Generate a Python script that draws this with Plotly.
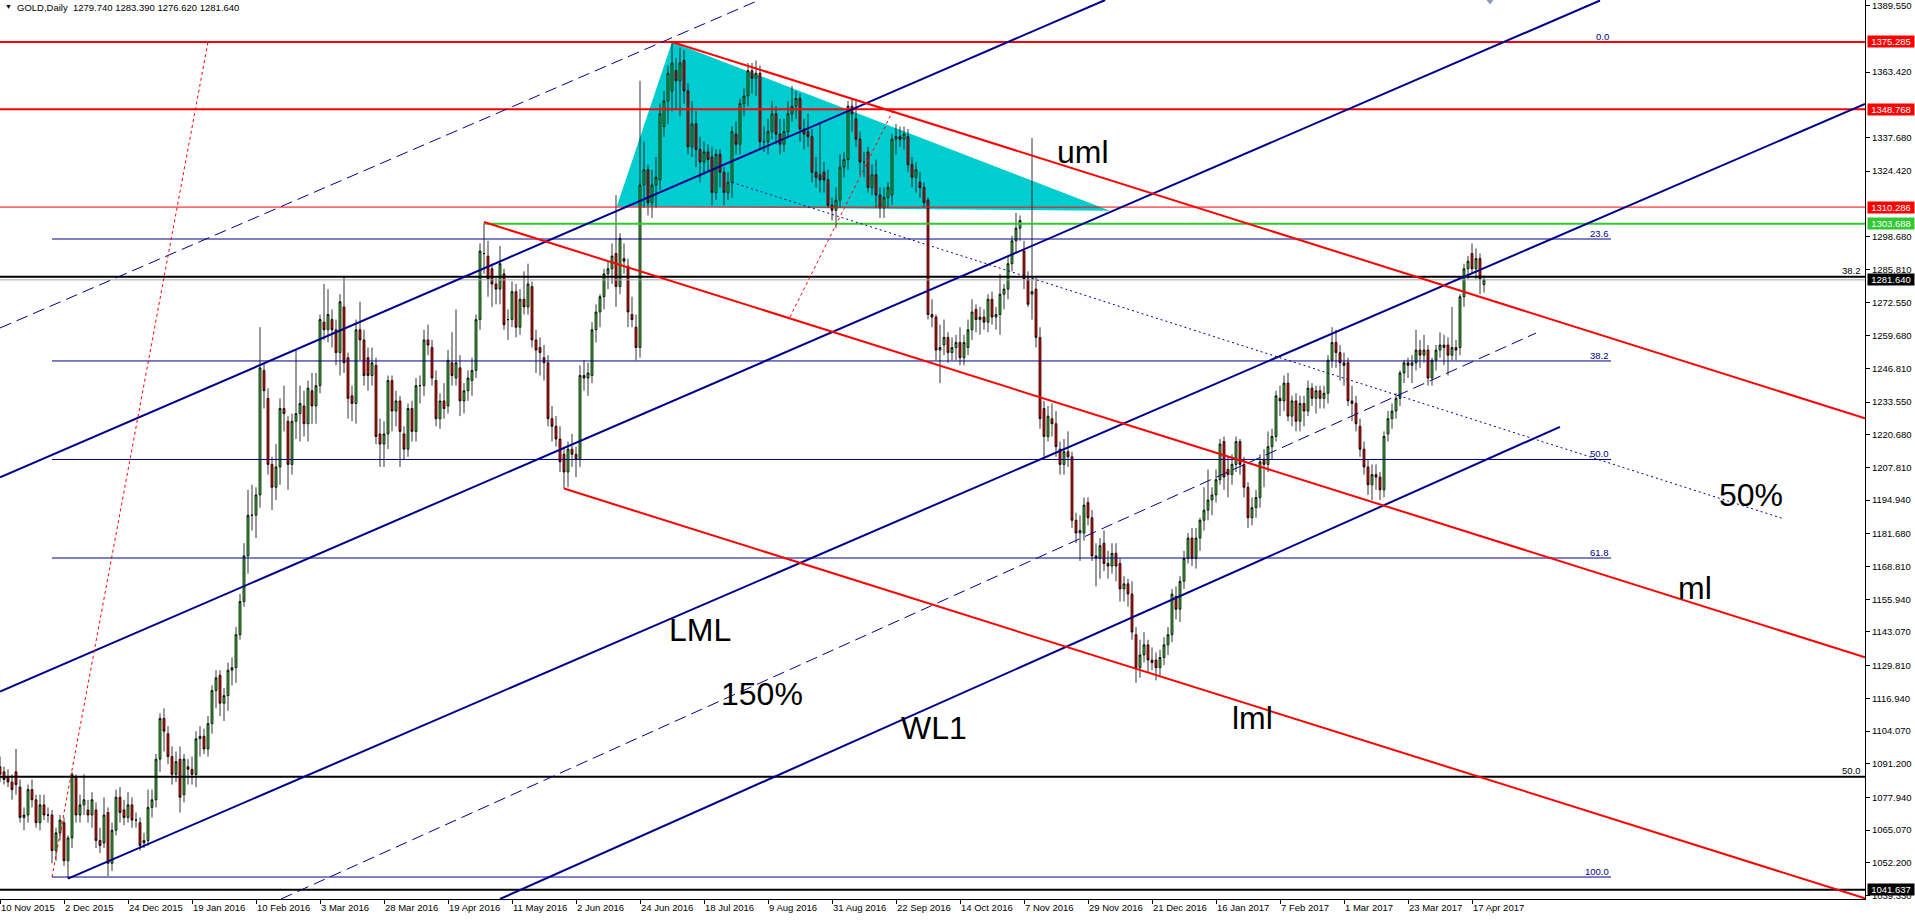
import plotly.graph_objects as go

# GOLD daily candles, bar 0 = 10 Nov 2015 ... bar 371 = 20 Apr 2017
opens = [
    1090, 1088, 1086, 1084, 1088, 1082, 1070, 1071, 1081, 1077,  # 0
    1068, 1075, 1071, 1071, 1057, 1064, 1068, 1053, 1062, 1086,  # 10
    1071, 1075, 1073, 1071, 1073, 1061, 1060, 1072, 1052, 1065,  # 20
    1078, 1073, 1070, 1075, 1069, 1068, 1060, 1061, 1074, 1077,  # 30
    1093, 1109, 1103, 1094, 1087, 1093, 1079, 1090, 1089, 1087,  # 40
    1101, 1102, 1097, 1107, 1120, 1126, 1115, 1118, 1128, 1129,  # 50
    1142, 1155, 1173, 1189, 1189, 1197, 1246, 1235, 1209, 1200,  # 60
    1208, 1231, 1226, 1209, 1226, 1229, 1232, 1225, 1238, 1232,  # 70
    1240, 1265, 1262, 1266, 1262, 1253, 1271, 1251, 1236, 1233,  # 80
    1262, 1258, 1251, 1244, 1248, 1221, 1217, 1221, 1242, 1230,  # 90
    1234, 1221, 1215, 1231, 1222, 1240, 1240, 1258, 1255, 1242,  # 100
    1227, 1234, 1232, 1249, 1243, 1247, 1234, 1238, 1242, 1246,  # 110
    1266, 1292, 1291, 1286, 1280, 1278, 1284, 1266, 1266, 1277,  # 120
    1263, 1274, 1271, 1279, 1258, 1255, 1251, 1249, 1227, 1224,  # 130
    1219, 1213, 1206, 1215, 1213, 1211, 1244, 1243, 1244, 1262,  # 140
    1269, 1275, 1284, 1286, 1292, 1279, 1290, 1287, 1268, 1263,  # 150
    1255, 1319, 1325, 1312, 1319, 1321, 1342, 1352, 1356, 1364,  # 160
    1360, 1368, 1356, 1334, 1343, 1333, 1328, 1332, 1330, 1316,  # 170
    1331, 1324, 1316, 1320, 1339, 1335, 1351, 1354, 1364, 1361,  # 180
    1363, 1336, 1336, 1340, 1347, 1339, 1335, 1340, 1347, 1350,  # 190
    1353, 1341, 1340, 1338, 1324, 1323, 1324, 1321, 1311, 1309,  # 200
    1313, 1326, 1329, 1350, 1345, 1337, 1328, 1332, 1318, 1323,  # 210
    1315, 1310, 1314, 1315, 1337, 1338, 1337, 1338, 1327, 1322,  # 220
    1320, 1318, 1313, 1268, 1267, 1254, 1256, 1259, 1253, 1255,  # 230
    1257, 1251, 1255, 1262, 1270, 1266, 1267, 1265, 1274, 1267,  # 240
    1268, 1276, 1278, 1288, 1297, 1302, 1293, 1282, 1276, 1278,  # 250
    1259, 1231, 1220, 1227, 1225, 1215, 1209, 1214, 1212, 1187,  # 260
    1182, 1182, 1194, 1188, 1173, 1172, 1178, 1170, 1169, 1174,  # 270
    1170, 1160, 1162, 1158, 1142, 1129, 1134, 1138, 1132, 1132,  # 280
    1129, 1133, 1138, 1142, 1157, 1152, 1163, 1172, 1180, 1172,  # 290
    1180, 1187, 1191, 1195, 1197, 1203, 1218, 1207, 1205, 1209,  # 300
    1218, 1209, 1200, 1188, 1192, 1196, 1211, 1209, 1216, 1220,  # 310
    1235, 1234, 1241, 1228, 1234, 1226, 1233, 1230, 1239, 1235,  # 320
    1238, 1235, 1237, 1250, 1257, 1253, 1249, 1249, 1234, 1233,  # 330
    1224, 1215, 1208, 1201, 1205, 1204, 1199, 1221, 1227, 1230,  # 340
    1235, 1245, 1249, 1248, 1249, 1254, 1252, 1254, 1243, 1250,  # 350
    1254, 1256, 1256, 1252, 1255, 1255, 1275, 1286, 1292, 1286,  # 360
    1290, 1279.74,  # 370
]
highs = [
    1094, 1090, 1089, 1087, 1097, 1085, 1074, 1083, 1085, 1079,
    1079, 1079, 1074, 1073, 1066, 1071, 1070, 1063, 1088, 1087,
    1079, 1087, 1077, 1080, 1076, 1066, 1078, 1074, 1068, 1081,
    1082, 1077, 1080, 1078, 1072, 1070, 1064, 1081, 1081, 1095,
    1111, 1113, 1106, 1098, 1096, 1098, 1095, 1093, 1094, 1104,
    1106, 1105, 1110, 1122, 1128, 1128, 1121, 1131, 1133, 1145,
    1158, 1178, 1199, 1201, 1200, 1263, 1249, 1239, 1212, 1217,
    1235, 1240, 1228, 1229, 1254, 1240, 1238, 1242, 1245, 1245,
    1268, 1280, 1278, 1270, 1266, 1276, 1283, 1253, 1240, 1266,
    1273, 1262, 1255, 1255, 1251, 1227, 1226, 1244, 1244, 1238,
    1236, 1224, 1233, 1234, 1243, 1244, 1262, 1264, 1258, 1246,
    1237, 1241, 1254, 1261, 1270, 1252, 1241, 1246, 1251, 1268,
    1296, 1304, 1297, 1288, 1283, 1295, 1286, 1270, 1281, 1280,
    1278, 1285, 1288, 1281, 1262, 1259, 1256, 1252, 1232, 1228,
    1224, 1216, 1218, 1221, 1216, 1248, 1250, 1249, 1265, 1272,
    1276, 1286, 1289, 1296, 1315, 1300, 1296, 1290, 1275, 1268,
    1360, 1336, 1327, 1325, 1330, 1351, 1356, 1366, 1375.3, 1369,
    1373, 1372, 1359, 1352, 1348, 1338, 1336, 1335, 1334, 1333,
    1333, 1326, 1324, 1342, 1344, 1353, 1357, 1367, 1367, 1368,
    1366, 1342, 1345, 1352, 1350, 1345, 1345, 1352, 1358, 1356,
    1355, 1345, 1347, 1341, 1330, 1343, 1328, 1325, 1314, 1318,
    1331, 1332, 1352, 1353, 1352, 1340, 1332, 1334, 1327, 1329,
    1318, 1318, 1320, 1339, 1343, 1342, 1342, 1341, 1330, 1328,
    1324, 1320, 1314, 1274, 1268, 1264, 1266, 1261, 1259, 1260,
    1263, 1260, 1266, 1274, 1272, 1271, 1270, 1276, 1277, 1271,
    1284, 1280, 1291, 1299, 1308, 1307, 1297, 1285, 1337.5, 1283,
    1263, 1234, 1232, 1233, 1230, 1218, 1219, 1222, 1214, 1190,
    1189, 1196, 1196, 1191, 1178, 1180, 1183, 1175, 1178, 1178,
    1172, 1165, 1164, 1163, 1145, 1140, 1143, 1140, 1137, 1135,
    1136, 1141, 1145, 1160, 1161, 1165, 1175, 1182, 1184, 1184,
    1188, 1200, 1207, 1200, 1207, 1219, 1220, 1212, 1213, 1220,
    1219, 1212, 1202, 1196, 1199, 1213, 1215, 1222, 1223, 1238,
    1240, 1244, 1245, 1236, 1237, 1236, 1236, 1242, 1241, 1240,
    1240, 1240, 1252, 1263, 1262, 1256, 1253, 1251, 1240, 1236,
    1227, 1218, 1211, 1209, 1209, 1206, 1222, 1230, 1233, 1237,
    1246, 1250, 1251, 1252, 1262, 1258, 1260, 1256, 1251, 1256,
    1261, 1260, 1259, 1271, 1258, 1276, 1288, 1291, 1296, 1294,
    1292, 1283.39,
]
lows = [
    1084, 1083, 1082, 1077, 1079, 1068, 1065, 1068, 1074, 1066,
    1065, 1069, 1068, 1052, 1053, 1061, 1051, 1046, 1058, 1068,
    1068, 1071, 1068, 1066, 1058, 1056, 1058, 1047, 1049, 1063,
    1068, 1067, 1068, 1066, 1066, 1057, 1058, 1059, 1070, 1074,
    1088, 1096, 1091, 1083, 1084, 1072, 1076, 1083, 1083, 1082,
    1094, 1095, 1094, 1103, 1113, 1110, 1108, 1112, 1122, 1123,
    1140, 1153, 1166, 1183, 1180, 1192, 1231, 1205, 1191, 1195,
    1201, 1222, 1199, 1205, 1219, 1218, 1220, 1218, 1225, 1225,
    1237, 1258, 1257, 1255, 1248, 1244, 1245, 1227, 1226, 1225,
    1250, 1240, 1238, 1240, 1217, 1208, 1208, 1215, 1222, 1224,
    1208, 1211, 1212, 1218, 1218, 1233, 1236, 1252, 1240, 1224,
    1223, 1227, 1229, 1240, 1240, 1228, 1229, 1234, 1236, 1243,
    1262, 1284, 1275, 1271, 1272, 1272, 1262, 1258, 1263, 1259,
    1260, 1268, 1268, 1255, 1245, 1244, 1242, 1224, 1218, 1216,
    1206, 1199.5, 1200, 1208, 1204, 1208, 1238, 1236, 1241, 1257,
    1263, 1270, 1278, 1280, 1271, 1276, 1284, 1263, 1263, 1250,
    1251, 1310, 1307, 1306, 1310, 1317, 1338, 1343, 1348, 1349,
    1346, 1351, 1331, 1330, 1326, 1320, 1323, 1324, 1311, 1313,
    1318, 1311, 1313, 1314, 1331, 1331, 1346, 1350, 1355, 1354,
    1333, 1332, 1331, 1337, 1335, 1331, 1332, 1338, 1344, 1345,
    1336, 1333, 1334, 1320, 1318, 1316, 1316, 1310, 1305, 1302,
    1310, 1322, 1325, 1340, 1334, 1323, 1322, 1316, 1315, 1310,
    1306, 1306, 1310, 1311, 1331, 1334, 1333, 1324, 1318, 1316,
    1314, 1310, 1266, 1263, 1250, 1241, 1252, 1249, 1250, 1250,
    1248, 1248, 1252, 1258, 1261, 1260, 1262, 1261, 1264, 1262,
    1260, 1270, 1274, 1285, 1292, 1297, 1278, 1271, 1266, 1255,
    1223, 1212, 1218, 1220, 1212, 1205, 1205, 1208, 1184, 1178,
    1171, 1179, 1185, 1171, 1161, 1164, 1167, 1164, 1166, 1163,
    1155, 1155, 1153, 1140, 1123, 1125, 1131, 1127, 1128, 1124,
    1126, 1130, 1134, 1139, 1148, 1147, 1160, 1170, 1169, 1168,
    1175, 1183, 1187, 1189, 1194, 1201, 1199, 1196, 1201, 1206,
    1205, 1196, 1184, 1185, 1188, 1192, 1200, 1206, 1211, 1218,
    1228, 1230, 1226, 1224, 1222, 1222, 1224, 1228, 1232, 1229,
    1231, 1231, 1233, 1247, 1247, 1242, 1240, 1232, 1226, 1222,
    1212, 1205, 1197, 1195, 1199, 1195, 1196, 1218, 1223, 1227,
    1232, 1241, 1243, 1241, 1246, 1247, 1249, 1240, 1240, 1246,
    1251, 1248, 1244, 1250, 1250, 1252, 1271, 1282, 1284, 1282,
    1276, 1276.62,
]
closes = [
    1087, 1085, 1084, 1081, 1083, 1070, 1071, 1081, 1077, 1068,
    1075, 1071, 1071, 1057, 1064, 1069, 1053, 1062, 1087, 1071,
    1075, 1077, 1071, 1077, 1061, 1059, 1071, 1052, 1065, 1078,
    1072, 1070, 1075, 1069, 1069, 1059, 1061, 1074, 1077, 1093,
    1109, 1104, 1094, 1087, 1092, 1078, 1093, 1089, 1087, 1101,
    1102, 1097, 1107, 1120, 1125, 1115, 1118, 1128, 1129, 1142,
    1155, 1173, 1189, 1189, 1197, 1247, 1238, 1209, 1200, 1208,
    1231, 1229, 1209, 1226, 1229, 1233, 1225, 1239, 1232, 1240,
    1266, 1262, 1268, 1262, 1253, 1273, 1249, 1235, 1233, 1262,
    1258, 1244, 1244, 1249, 1220, 1217, 1221, 1242, 1230, 1234,
    1222, 1215, 1231, 1222, 1240, 1240, 1258, 1256, 1243, 1227,
    1234, 1231, 1250, 1244, 1249, 1234, 1238, 1243, 1246, 1266,
    1293, 1292, 1282, 1280, 1278, 1288, 1264, 1266, 1277, 1263,
    1274, 1271, 1280, 1258, 1254, 1253, 1249, 1227, 1224, 1219,
    1210, 1206, 1215, 1213, 1211, 1244, 1243, 1245, 1262, 1269,
    1275, 1284, 1286, 1291, 1279, 1298, 1289, 1269, 1266, 1255,
    1319, 1325, 1312, 1319, 1322, 1347, 1352, 1363, 1367, 1360,
    1367, 1356, 1334, 1343, 1333, 1328, 1332, 1329, 1316, 1331,
    1324, 1316, 1320, 1340, 1335, 1351, 1354, 1364, 1361, 1363,
    1336, 1336, 1340, 1347, 1339, 1335, 1340, 1347, 1350, 1353,
    1341, 1339, 1338, 1324, 1322, 1321, 1321, 1311, 1309, 1313,
    1326, 1329, 1350, 1347, 1337, 1328, 1328, 1318, 1323, 1315,
    1310, 1314, 1318, 1337, 1338, 1337, 1339, 1327, 1322, 1325,
    1318, 1312, 1268, 1267, 1254, 1255, 1259, 1253, 1255, 1257,
    1251, 1257, 1262, 1269, 1266, 1267, 1265, 1274, 1267, 1268,
    1276, 1278, 1288, 1297, 1302, 1305, 1282, 1272, 1277, 1259,
    1227, 1220, 1228, 1225, 1216, 1209, 1214, 1212, 1187, 1182,
    1183, 1193, 1188, 1173, 1172, 1177, 1170, 1169, 1174, 1169,
    1160, 1162, 1158, 1143, 1129, 1134, 1138, 1132, 1131, 1129,
    1133, 1138, 1142, 1158, 1152, 1163, 1172, 1180, 1172, 1180,
    1187, 1191, 1195, 1197, 1203, 1217, 1204, 1205, 1209, 1218,
    1209, 1200, 1188, 1192, 1196, 1210, 1209, 1216, 1220, 1236,
    1234, 1241, 1228, 1234, 1226, 1233, 1230, 1239, 1235, 1238,
    1235, 1237, 1250, 1257, 1253, 1249, 1248, 1234, 1233, 1225,
    1215, 1208, 1201, 1205, 1204, 1199, 1220, 1227, 1230, 1235,
    1245, 1249, 1248, 1249, 1254, 1252, 1254, 1243, 1250, 1254,
    1256, 1255, 1252, 1255, 1254, 1275, 1286, 1289, 1286, 1290,
    1282, 1281.64,
]

# time axis labels every 16 bars
date_ticks = [0, 16, 32, 48, 64, 80, 96, 112, 128, 144, 160, 176, 192, 208,
              224, 240, 256, 272, 288, 304, 320, 336, 352, 368]
date_labels = ['10 Nov 2015', '2 Dec 2015', '24 Dec 2015', '19 Jan 2016', '10 Feb 2016',
               '3 Mar 2016', '28 Mar 2016', '19 Apr 2016', '11 May 2016', '2 Jun 2016',
               '24 Jun 2016', '18 Jul 2016', '9 Aug 2016', '31 Aug 2016', '22 Sep 2016',
               '14 Oct 2016', '7 Nov 2016', '29 Nov 2016', '21 Dec 2016', '16 Jan 2017',
               '7 Feb 2017', '1 Mar 2017', '23 Mar 2017', '17 Apr 2017']

# price scale
price_ticks = [1389.550, 1363.420, 1337.680, 1324.420,
               1298.680, 1285.810, 1272.550, 1259.680, 1246.810, 1233.550, 1220.680,
               1207.810, 1194.940, 1181.680, 1168.810, 1155.940, 1143.070, 1129.810,
               1116.940, 1104.070, 1091.200, 1077.940, 1065.070, 1052.200, 1039.330]
price_min, price_max = 1037.95, 1391.79
bar_max = 466.25

# horizontal levels
red_levels = [1375.285, 1348.768, 1310.286]
green_level = 1303.688
green_from_bar = 121
black_levels = [1282.9, 1086.1, 1041.637]
black_level_names = ['38.2', '50.0', '']
bid_price = 1281.64

# fibonacci retracement (navy)
fib_levels = [1375.285, 1297.72, 1249.72, 1210.94, 1172.16, 1046.6]
fib_names = ['0.0', '23.6', '38.2', '50.0', '61.8', '100.0']
fib_span = [13, 402.75]

# trend lines: [bar0, price0, bar1, price1]
navy_solid = [[0, 1203.9, 276.3, 1391.8],
              [0, 1119.6, 400.0, 1391.6],
              [17, 1046.0, 466.25, 1350.9],
              [125, 1037.95, 390.0, 1223.8]]
navy_dashed = [[0, 1262.7, 190, 1391.9],
               [70.25, 1037.95, 384, 1260.7]]
navy_dotted = [[183, 1320.0, 445.5, 1187.8]]
red_fork = [[168, 1375.26, 466.25, 1227.15],
            [121, 1304.4, 466.25, 1133.1],
            [141, 1199.5, 466.25, 1038.2]]
red_dotted = [[13, 1046.6, 52, 1375.3],
              [197.5, 1267.0, 223.5, 1349.0]]

# cyan triangle
tri_bars = [154.2, 168, 277.5]
tri_prices = [1310.5, 1375.3, 1308.8]

# text labels on chart
text_labels = ['uml', 'ml', 'lml', 'LML', 'WL1', '150%', '50%']
text_bars = [264, 419.2, 307.7, 167, 225.1, 180, 429.5]
text_prices = [1331.8, 1160.4, 1109.0, 1143.8, 1105.1, 1118.6, 1197.1]

# coloured price boxes on the axis
box_prices = [1375.285, 1348.768, 1310.286, 1303.688, 1281.640, 1041.637]
box_colors = ['#ff0000', '#ff0000', '#ff0000', '#32c832', '#000000', '#000000']

NAVY = '#00008b'
FONT = 'Liberation Sans'

fig = go.Figure()

bars = list(range(len(closes)))
fig.add_trace(go.Candlestick(
    x=bars, open=opens, high=highs, low=lows, close=closes,
    increasing=dict(fillcolor='#33c433', line=dict(color='black', width=0.8)),
    decreasing=dict(fillcolor='#ff0000', line=dict(color='black', width=0.8)),
    whiskerwidth=0))


def seg(x0, y0, x1, y1, color, width=1, dash='solid'):
    fig.add_trace(go.Scatter(x=[x0, x1], y=[y0, y1], mode='lines',
                             line=dict(color=color, width=width, dash=dash),
                             hoverinfo='skip'))


for v in fib_levels:
    seg(fib_span[0], v, fib_span[1], v, NAVY, 1)

for v, w in zip(red_levels, [2, 2, 1]):
    seg(0, v, bar_max, v, '#ff0000', w)
seg(green_from_bar, green_level, bar_max, green_level, '#32c832', 2)
seg(0, bid_price, bar_max, bid_price, '#a0a8b0', 1)
for v in black_levels:
    seg(0, v, bar_max, v, 'black', 2)

for l in navy_solid:
    seg(*l, NAVY, 2)
for l in navy_dashed:
    seg(*l, NAVY, 1, '12px,6px')
for l in navy_dotted:
    seg(*l, NAVY, 1, '2px,3px')
for l in red_fork:
    seg(*l, '#ff0000', 2)
for l in red_dotted:
    seg(*l, '#ff0000', 1, '3px,3px')

# chart shift marker
fig.add_trace(go.Scatter(x=[372.5], y=[price_max], mode='markers', cliponaxis=False,
                         marker=dict(symbol='triangle-down', size=9, color='#8c9bb8'),
                         hoverinfo='skip'))

# triangle drawn behind the candles
tri_path = 'M ' + ' L '.join(f'{b},{p}' for b, p in zip(tri_bars, tri_prices)) + ' Z'
fig.add_shape(type='path', path=tri_path, xref='x', yref='y', layer='below',
              fillcolor='#00cdd0', line=dict(width=0))

ann = []
for name, v in zip(fib_names, fib_levels):
    ann.append(dict(x=fib_span[1], y=v, xref='x', yref='y', text=name, showarrow=False,
                    xanchor='right', yanchor='bottom', yshift=-2,
                    font=dict(family=FONT, size=9.5, color=NAVY)))
for name, v in zip(black_level_names, black_levels):
    if name:
        ann.append(dict(x=1, y=v, xref='paper', yref='y', text=name, showarrow=False,
                        xanchor='right', yanchor='bottom', xshift=-2, yshift=-1,
                        font=dict(family=FONT, size=9.5, color='black')))
for t, b, p in zip(text_labels, text_bars, text_prices):
    ann.append(dict(x=b, y=p, xref='x', yref='y', text=t, showarrow=False,
                    xanchor='left', yanchor='middle', borderpad=0,
                    font=dict(family=FONT, size=32, color='black')))
for p, c in zip(box_prices, box_colors):
    ann.append(dict(x=1, y=p, xref='paper', yref='y', text=f'{p:.3f}', showarrow=False,
                    xanchor='left', yanchor='middle', xshift=2, width=46, height=11,
                    borderpad=0, bgcolor=c, align='center',
                    font=dict(family=FONT, size=9.5, color='white')))
ann.append(dict(x=0.0015, y=1, xref='paper', yref='paper', text='▼', showarrow=False,
                xanchor='left', yanchor='top', yshift=-1,
                font=dict(family=FONT, size=7, color='black')))
ann.append(dict(x=0.008, y=1, xref='paper', yref='paper',
                text='GOLD,Daily  1279.740 1283.390 1276.620 1281.640', showarrow=False,
                xanchor='left', yanchor='top',
                font=dict(family=FONT, size=9.5, color='black')))

fig.update_layout(
    width=1915, height=921,
    margin=dict(l=0, r=50, t=0, b=22, pad=0),
    paper_bgcolor='white', plot_bgcolor='white',
    showlegend=False,
    annotations=ann,
    xaxis=dict(range=[0, bar_max], tickvals=date_ticks, ticktext=date_labels,
               ticks='outside', ticklen=4, tickcolor='black',
               ticklabelposition='outside right',
               showline=True, linecolor='black', linewidth=1,
               showgrid=False, zeroline=False, rangeslider=dict(visible=False),
               tickfont=dict(family=FONT, size=9.5, color='black')),
    yaxis=dict(range=[price_min, price_max], side='right',
               tickvals=price_ticks, ticktext=[f'{v:.3f}' for v in price_ticks],
               ticks='outside', ticklen=4, tickcolor='black',
               showline=True, linecolor='black', linewidth=1,
               showgrid=False, zeroline=False,
               tickfont=dict(family=FONT, size=9.5, color='black')),
)

fig.write_html('out.html', config={'displayModeBar': False},
               post_script="document.body.style.margin='0px';document.body.style.overflow='hidden';")
